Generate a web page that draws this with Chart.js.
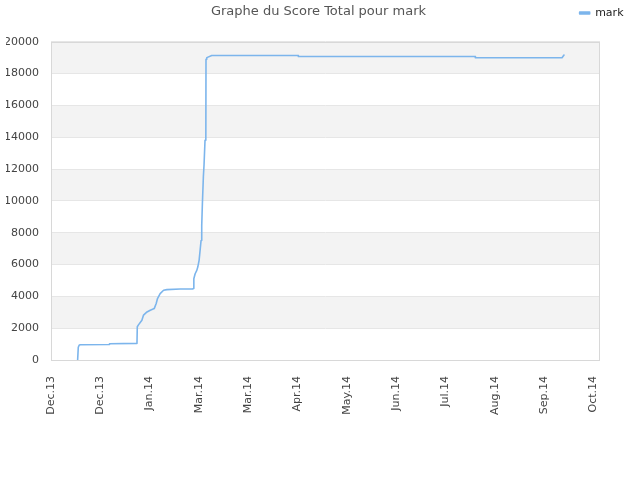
<!DOCTYPE html>
<html>
<head>
<meta charset="utf-8">
<script src="https://cdn.jsdelivr.net/npm/chart.js@4.4.1/dist/chart.umd.min.js"></script>
<style>
html,body{margin:0;padding:0;background:#fff;}
#wrap{width:640px;height:480px;}
</style>
</head>
<body>
<div id="wrap"><canvas id="c" width="640" height="480"></canvas></div>
<script>
// Days since 1 Dec 2013
const days = [16.2, 16.6, 17.2, 18.0, 35.4, 35.6, 52.3, 52.5, 53.1, 55.3, 56.3, 58.4, 60.4, 62.8, 64.0, 64.8, 66.4, 68.5, 70.5, 78.6, 86.3, 86.5, 86.9, 87.7, 88.7, 89.3, 90.1, 90.7, 91.3, 91.7, 92.1, 92.7, 93.1, 93.7, 94.2, 94.3, 94.8, 97.8, 150.3, 150.5, 258.0, 258.2, 310.9, 312.1];
const scores = [0, 800, 940, 960, 970, 1020, 1045, 2090, 2190, 2500, 2820, 3020, 3130, 3230, 3550, 3860, 4170, 4380, 4420, 4460, 4470, 4490, 5110, 5420, 5630, 5840, 6260, 6880, 7510, 8450, 9820, 11510, 12250, 13810, 13900, 18900, 19000, 19130, 19130, 19070, 19070, 18990, 18990, 19160];
const tickLabels = ["Dec.13", "Dec.13", "Jan.14", "Mar.14", "Mar.14", "Apr.14", "May.14", "Jun.14", "Jul.14", "Aug.14", "Sep.14", "Oct.14"];
const seriesName = "mark";
const titleText = "Graphe du Score Total pour mark";

const points = days.map((d, i) => ({x: d, y: scores[i]}));

const bandPlugin = {
  id: 'bands',
  beforeDraw(chart) {
    const {ctx, chartArea} = chart;
    const ys = chart.scales.y;
    ctx.save();
    ctx.fillStyle = '#f3f3f3';
    const t = ys.ticks;
    for (let i = 1; i + 1 < t.length; i += 2) {
      const a = ys.getPixelForValue(t[i].value);
      const b = ys.getPixelForValue(t[i + 1].value);
      ctx.fillRect(chartArea.left, b, chartArea.right - chartArea.left, a - b);
    }
    ctx.restore();
  },
  afterDraw(chart) {
    const {ctx, chartArea} = chart;
    ctx.save();
    ctx.strokeStyle = '#d8d8d8';
    ctx.lineWidth = 1;
    ctx.strokeRect(Math.round(chartArea.left) + 0.5, Math.round(chartArea.top) + 0.5,
      Math.round(chartArea.right - chartArea.left) - 1, Math.round(chartArea.bottom - chartArea.top));
    ctx.restore();
  }
};

new Chart(document.getElementById('c'), {
  type: 'line',
  data: {
    datasets: [{
      label: seriesName,
      data: points,
      borderColor: '#7cb5ec',
      backgroundColor: '#7cb5ec',
      borderWidth: 1.6,
      borderJoinStyle: 'round',
      borderCapStyle: 'round',
      pointRadius: 0,
      tension: 0,
      fill: false
    }]
  },
  options: {
    responsive: false,
    animation: false,
    devicePixelRatio: 1,
    layout: {padding: {left: 6, right: 9, top: 0, bottom: 0}},
    plugins: {
      title: {
        display: true,
        text: titleText,
        color: '#555',
        font: {family: 'DejaVu Sans', size: 13, weight: 'normal'},
        weight: 500,
        padding: {top: -24.3, bottom: 21.9}
      },
      legend: {
        display: true,
        position: 'top',
        align: 'end',
        weight: 1000,
        labels: {
          color: '#222',
          font: {family: 'DejaVu Sans', size: 11},
          boxWidth: 10,
          boxHeight: 2,
          padding: 7.5
        }
      },
      tooltip: {enabled: false}
    },
    scales: {
      x: {
        type: 'linear',
        min: 0,
        max: 334,
        grid: {display: false},
        border: {display: false},
        afterFit(s) { s.height = 120; },
        ticks: {
          stepSize: 30,
          includeBounds: false,
          autoSkip: false,
          minRotation: 90,
          maxRotation: 90,
          padding: 8,
          color: '#444',
          font: {family: 'DejaVu Sans', size: 11},
          callback: (v) => tickLabels[Math.round(v / 30)]
        }
      },
      y: {
        min: 0,
        max: 20000,
        afterFit(s) { s.width = 45; },
        grid: {color: '#e6e6e6', drawTicks: false},
        border: {display: false},
        ticks: {
          stepSize: 2000,
          padding: 12,
          color: '#444',
          font: {family: 'DejaVu Sans', size: 11},
          callback: (v) => String(v)
        }
      },
      y2: {
        position: 'right',
        display: true,
        grid: {display: false},
        border: {display: false},
        ticks: {display: false},
        afterFit(s) { s.width = 31; }
      }
    }
  },
  plugins: [bandPlugin]
});
</script>
</body>
</html>
